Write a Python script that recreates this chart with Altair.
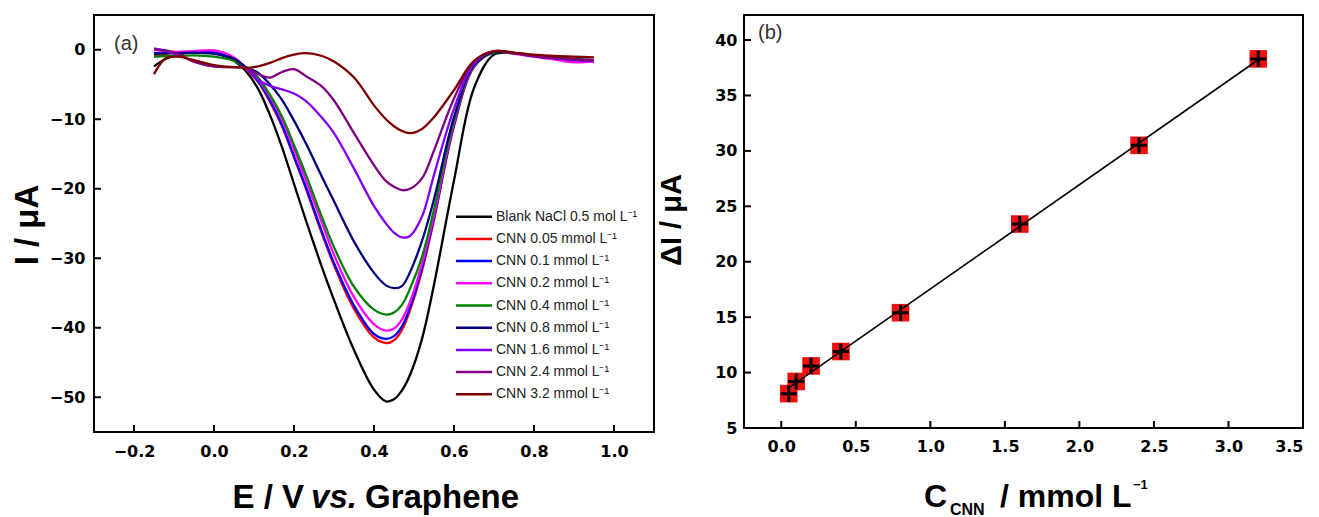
import altair as alt
import pandas as pd

FONT = "Liberation Sans"
TICK_FONT = "DejaVu Sans"

# ---------------- Panel (a) data ----------------
E = [-0.15, -0.12, -0.09, -0.05, 0.0, 0.05, 0.08, 0.11, 0.14, 0.17, 0.2, 0.23, 0.27, 0.3,
     0.35, 0.4, 0.43, 0.45, 0.47, 0.49, 0.52, 0.55, 0.6, 0.65, 0.7, 0.75, 0.8, 0.85, 0.9, 0.95]

blank = [-2.4, -1.3, -0.7, -0.25, -0.4, -1.6, -3.1, -5.6, -9.4, -14.0, -19.3, -24.6, -31.3, -36.0,
         -43.2, -48.9, -50.6, -50.3, -49.0, -46.8, -41.6, -33.8, -18.8, -5.5, -0.7, -0.5, -0.9, -1.2, -1.4, -1.6]
cnn_005 = [-0.8, -0.6, -0.4, -0.3, -0.4, -1.3, -2.8, -4.6, -7.5, -11.0, -15.5, -20.0, -26.5, -31.0,
           -37.3, -41.4, -42.2, -41.8, -40.3, -37.5, -31.8, -24.5, -11.0, -2.5, -0.3, -0.5, -0.9, -1.2, -1.4, -1.6]
cnn_01 = [-0.5, -0.4, -0.4, -0.4, -0.4, -1.3, -2.7, -4.5, -7.3, -10.8, -15.3, -19.8, -26.2, -30.7,
          -36.8, -40.9, -41.6, -41.2, -39.8, -37.1, -31.4, -24.2, -10.8, -2.4, -0.3, -0.5, -0.9, -1.2, -1.4, -1.6]
cnn_02 = [0.0, -0.2, -0.3, -0.2, -0.1, -1.1, -2.6, -4.2, -6.8, -10.0, -14.3, -18.8, -24.9, -29.5,
          -35.6, -39.5, -40.4, -40.1, -38.8, -36.3, -30.8, -23.8, -10.5, -2.3, -0.3, -0.6, -1.0, -1.4, -1.8, -1.7]
cnn_04 = [-1.0, -0.9, -0.9, -0.8, -1.0, -1.6, -2.6, -4.0, -6.5, -9.6, -13.7, -18.0, -24.1, -28.4,
          -34.1, -37.4, -38.1, -37.8, -36.7, -34.4, -29.8, -23.0, -10.2, -2.3, -0.4, -0.5, -0.8, -1.1, -1.3, -1.5]
cnn_08 = [-0.6, -0.5, -0.5, -0.4, -0.6, -1.3, -2.5, -3.3, -5.0, -7.2, -10.2, -13.5, -18.3, -21.8,
          -27.6, -32.1, -33.9, -34.3, -34.0, -32.0, -27.5, -21.5, -9.7, -2.2, -0.3, -0.5, -0.9, -1.2, -1.4, -1.6]
cnn_16 = [0.2, -0.2, -0.7, -1.7, -2.4, -2.5, -2.6, -4.3, -5.2, -5.7, -6.3, -7.4, -9.8, -12.0,
          -17.1, -22.5, -25.0, -26.3, -27.0, -26.8, -24.0, -18.0, -8.5, -2.0, -0.2, -0.5, -0.9, -1.2, -1.5, -1.6]
cnn_24 = [0.1, -0.1, -0.6, -1.7, -2.4, -2.5, -2.6, -3.5, -4.0, -3.2, -2.8, -3.8, -5.3, -7.3,
          -12.0, -16.6, -18.9, -19.7, -20.2, -20.0, -18.5, -14.5, -7.0, -1.7, -0.2, -0.5, -0.9, -1.2, -1.4, -1.5]
cnn_32 = [-3.5, -1.2, -1.0, -1.5, -2.2, -2.5, -2.6, -2.4, -1.9, -1.2, -0.7, -0.5, -0.9, -1.7,
          -4.0, -8.0, -10.0, -11.0, -11.7, -12.0, -11.4, -9.7, -5.8, -1.6, -0.2, -0.4, -0.7, -0.9, -1.0, -1.1]

series_names = [
    "Blank NaCl 0.5 mol L⁻¹",
    "CNN 0.05 mmol L⁻¹",
    "CNN 0.1 mmol L⁻¹",
    "CNN 0.2 mmol L⁻¹",
    "CNN 0.4 mmol L⁻¹",
    "CNN 0.8 mmol L⁻¹",
    "CNN 1.6 mmol L⁻¹",
    "CNN 2.4 mmol L⁻¹",
    "CNN 3.2 mmol L⁻¹",
]
series_colors = ["#000000", "#ff0000", "#0000ff", "#ff00ff", "#008000",
                 "#000080", "#8000ff", "#800080", "#800000"]
curves = [blank, cnn_005, cnn_01, cnn_02, cnn_04, cnn_08, cnn_16, cnn_24, cnn_32]

xa_ticks = [-0.2, 0.0, 0.2, 0.4, 0.6, 0.8, 1.0]
ya_ticks = [0, -10, -20, -30, -40, -50]

# ---------------- Panel (b) data ----------------
conc = [0.05, 0.1, 0.2, 0.4, 0.8, 1.6, 2.4, 3.2]
delta_i = [8.1, 9.2, 10.6, 11.9, 15.4, 23.4, 30.5, 38.3]
xb_ticks = [0.0, 0.5, 1.0, 1.5, 2.0, 2.5, 3.0, 3.5]
yb_ticks = [5, 10, 15, 20, 25, 30, 35, 40]

# ---------------- build tables ----------------
rows = []
for k, (name, vals) in enumerate(zip(series_names, curves)):
    for e, i in zip(E, vals):
        rows.append({"E": e, "I": i, "series": name, "k": k})
df_a = pd.DataFrame(rows)
df_b = pd.DataFrame({"c": conc, "dI": delta_i})

WA, HA = 560, 417
WB, HB = 559, 413

def axis_style(values, fmt, pad):
    return alt.Axis(values=values, format=fmt, title=None, domain=False, ticks=False,
                    tickSize=0, grid=False, labelPadding=pad, labelFont=TICK_FONT,
                    labelFontSize=16, labelFontWeight="bold", labelColor="black")

def txt(text, x, y, size, weight="bold", style="normal", align="left", angle=0,
        color="black", baseline="alphabetic"):
    return alt.Chart(pd.DataFrame({"t": [text]})).mark_text(
        align=align, baseline=baseline, font=FONT, fontSize=size, fontWeight=weight,
        fontStyle=style, angle=angle, color=color
    ).encode(x=alt.value(x), y=alt.value(y), text="t:N")

# ---------------- Panel (a) ----------------
xa_scale = alt.Scale(domain=[-0.3, 1.1], nice=False, zero=False)
ya_scale = alt.Scale(domain=[-55, 5], nice=False, zero=False)
color_scale = alt.Scale(domain=series_names, range=series_colors)
xa_axis = axis_style(xa_ticks, ".1f", 11)
ya_axis = axis_style(ya_ticks, "d", 9)

lines = alt.Chart(df_a).mark_line(strokeWidth=2.3, interpolate="catmull-rom").encode(
    x=alt.X("E:Q", scale=xa_scale, axis=xa_axis),
    y=alt.Y("I:Q", scale=ya_scale, axis=ya_axis),
    color=alt.Color("series:N", scale=color_scale, legend=None),
    detail="k:N",
)

xt_a = alt.Chart(pd.DataFrame({"v": xa_ticks})).mark_rule(color="black", strokeWidth=2).encode(
    x=alt.X("v:Q", scale=xa_scale, axis=xa_axis), y=alt.value(HA), y2=alt.value(HA - 7))
yt_a = alt.Chart(pd.DataFrame({"v": ya_ticks})).mark_rule(color="black", strokeWidth=2).encode(
    y=alt.Y("v:Q", scale=ya_scale, axis=None), x=alt.value(0), x2=alt.value(7))

legend_df = pd.DataFrame({"series": series_names})
leg_scale = alt.Scale(type="point", domain=series_names, range=[201.7, 379.3], padding=0)
leg_rules = alt.Chart(legend_df).mark_rule(strokeWidth=2.5).encode(
    y=alt.Y("series:N", scale=leg_scale, axis=None),
    x=alt.value(362), x2=alt.value(398),
    color=alt.Color("series:N", scale=color_scale, legend=None),
)
leg_text = alt.Chart(legend_df).mark_text(
    align="left", baseline="middle", font=FONT, fontSize=14, color="#222"
).encode(
    y=alt.Y("series:N", scale=leg_scale, axis=None),
    x=alt.value(402),
    text="series:N",
)

titles_a = [
    txt("(a)", 20, 35, 20, weight="normal", color="#333"),
    txt("E / V", 210, 493, 33, align="right"),
    txt("vs.", 240, 493, 33, style="italic", align="center"),
    txt("Graphene", 271, 493, 33, align="left"),
    txt("I / μA", -56, 210, 33, align="center", angle=270),
]

panel_a = alt.layer(lines, xt_a, yt_a, leg_rules, leg_text, *titles_a).resolve_scale(
    y="independent").properties(width=WA, height=HA)

# ---------------- Panel (b) ----------------
xb_scale = alt.Scale(domain=[-0.25, 3.5], nice=False, zero=False)
yb_scale = alt.Scale(domain=[5, 42.26], nice=False, zero=False)
xb_axis = axis_style(xb_ticks, ".1f", 10)
yb_axis = axis_style(yb_ticks, "d", 7)

xb = alt.X("c:Q", scale=xb_scale, axis=xb_axis)
yb = alt.Y("dI:Q", scale=yb_scale, axis=yb_axis)

squares = alt.Chart(df_b).mark_square(size=310, color="#f01010", opacity=1).encode(x=xb, y=yb)
fit = alt.Chart(df_b).transform_regression("c", "dI").mark_line(
    color="black", strokeWidth=1.6).encode(x=xb, y=yb)
crosses = alt.Chart(df_b).mark_point(
    shape="M-1,0L1,0M0,-1L0,1", size=260, strokeWidth=3, color="black", filled=False, opacity=1
).encode(x=xb, y=yb)

xt_b = alt.Chart(pd.DataFrame({"v": xb_ticks})).mark_rule(color="black", strokeWidth=2).encode(
    x=alt.X("v:Q", scale=xb_scale, axis=xb_axis), y=alt.value(HB), y2=alt.value(HB - 7))
yt_b = alt.Chart(pd.DataFrame({"v": yb_ticks})).mark_rule(color="black", strokeWidth=2).encode(
    y=alt.Y("v:Q", scale=yb_scale, axis=yb_axis), x=alt.value(0), x2=alt.value(7))

titles_b = [
    txt("(b)", 14, 24, 20, weight="normal", color="#333"),
    txt("C", 180, 492, 32),
    txt("CNN", 206, 500, 16),
    txt("/ mmol L", 256, 492, 32),
    txt("−1", 389, 474, 13),
    txt("ΔI / μA", -63, 205, 29, align="center", angle=270),
]

panel_b = alt.layer(squares, fit, crosses, xt_b, yt_b, *titles_b).properties(width=WB, height=HB)

chart = alt.hconcat(panel_a, panel_b, spacing=90, bounds="flush").properties(
    padding={"left": 11, "top": 14, "right": 5, "bottom": 5},
).configure_view(stroke="black", strokeWidth=2)

chart.save("out.html", embed_options={"renderer": "svg", "actions": False})
